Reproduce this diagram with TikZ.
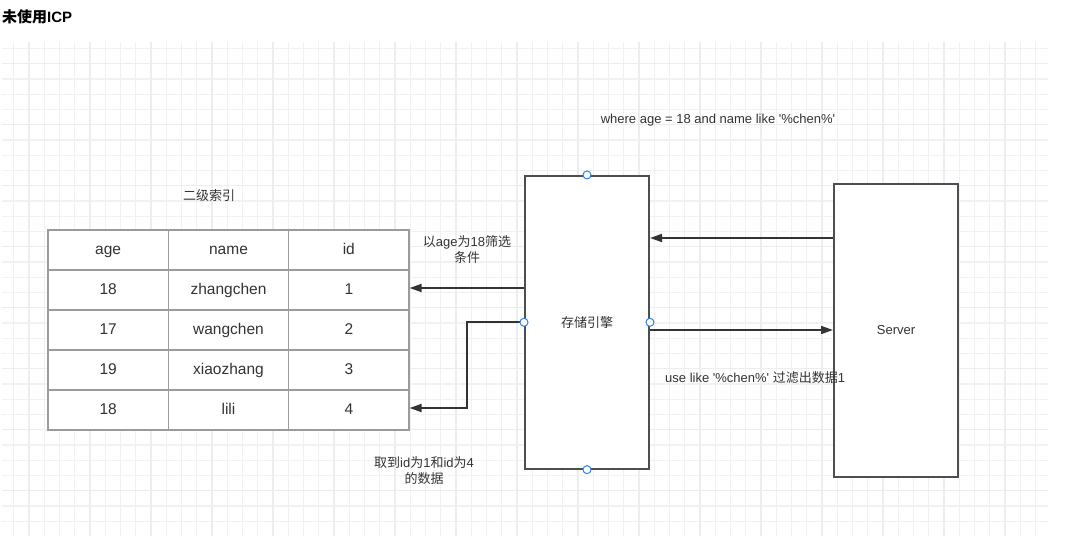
\documentclass[tikz,border=0pt]{standalone}
\usepackage{fontspec}
\setmainfont{Liberation Sans}
\newfontfamily\cjk{Noto Sans CJK SC}
\usetikzlibrary{arrows.meta}
\definecolor{gridminor}{HTML}{F1F1F1}
\definecolor{gridmajor}{HTML}{EDEDED}
\definecolor{boxline}{HTML}{4B4F54}
\definecolor{cellline}{HTML}{9B9B9B}
\definecolor{handleblue}{HTML}{2D83EA}
\definecolor{ink}{HTML}{333333}
\newcommand{\zh}[1]{{\cjk #1}}
\newcommand{\sq}{\textquotesingle}
\tikzset{
  cell/.style={draw=cellline, fill=white, line width=1.2pt, minimum width=120.33pt, minimum height=40pt, inner sep=0pt, text height=11.1pt, text depth=2pt, text=ink, font=\fontsize{15.5}{18}\selectfont},
  tallbox/.style={draw=boxline, fill=white, line width=2pt, minimum width=124pt, inner sep=0pt, text=ink, font=\fontsize{13}{16}\selectfont},
  handle/.style={circle, draw=handleblue, fill=white, line width=1pt, minimum size=8pt, inner sep=0pt},
  note/.style={text=ink, font=\fontsize{13}{16}\selectfont, align=center, inner sep=0pt},
  flow/.style={draw=ink, line width=1.7pt, -{Triangle[length=12pt,width=8pt]}},
}
\begin{document}
\begin{tikzpicture}[x=1pt, y=-1pt]
            \useasboundingbox (0,0) rectangle (1091,536);
            \fill[white] (0,0) rectangle (1091,536);
            \foreach \i in {0,...,67} \draw[gridminor, line width=1.2pt] ({13.75+15.25*\i},42) -- ({13.75+15.25*\i},536);
            \foreach \j in {0,...,31} \draw[gridminor, line width=1.2pt] (2,{48.45+15.25*\j}) -- (1048,{48.45+15.25*\j});
            \foreach \i in {0,...,16} \draw[gridmajor, line width=1.2pt] ({29+61*\i},42) -- ({29+61*\i},536);
            \foreach \j in {0,...,7} \draw[gridmajor, line width=1.2pt] (2,{63.7+61*\j}) -- (1048,{63.7+61*\j});
            \node[anchor=west, inner sep=0pt, text=black, font=\fontsize{15}{18}\selectfont\bfseries] (title) at (2,16.5) {\zh{未使用}ICP};
            \node[note] (cond) at (718,120) {where age = 18 and name like \sq\%chen\%\sq};
            \node[note] (idxlabel) at (209,196) {\zh{二级索引}};
            \foreach \r/\ag/\nm/\ix in {0/age/name/id,1/18/zhangchen/1,2/17/wangchen/2,3/19/xiaozhang/3,4/18/lili/4}{
                \node[cell] (age\r) at (108.17,250+40*\r) {\ag};
                \node[cell] (name\r) at (228.5,250+40*\r) {\nm};
                \node[cell] (id\r) at (348.83,250+40*\r) {\ix};
            }
            \node[tallbox, minimum height=292.7pt] (engine) at (587,322.3) {\zh{存储引擎}};
            \node[tallbox, minimum height=293pt] (server) at (896,330.5) {Server};
            \node[note] (filter) at (467,249.7) {\zh{以}age\zh{为}18\zh{筛选}\\\zh{条件}};
            \node[note] (fetch) at (424,471) {\zh{取到}id\zh{为}1\zh{和}id\zh{为}4\\\zh{的数据}};
            \node[note, anchor=west] (result) at (665,378) {use like \sq\%chen\%\sq{} \zh{过滤出数据}1};
            \draw[flow] (server.west |- 0,238) -- (engine.east |- 0,238);
            \draw[flow] (engine.east |- 0,330) -- (server.west |- 0,330);
            \draw[flow] (engine.west |- 0,288) -- (id1.east |- 0,288);
            \draw[flow] (engine.west) -| (467,408) -- (id4.east |- 0,408);
            \node[handle] (hn) at (engine.north) {};
            \node[handle] (hs) at (engine.south) {};
            \node[handle] (hw) at (engine.west) {};
            \node[handle] (he) at (engine.east) {};
        \end{tikzpicture}
\end{document}
